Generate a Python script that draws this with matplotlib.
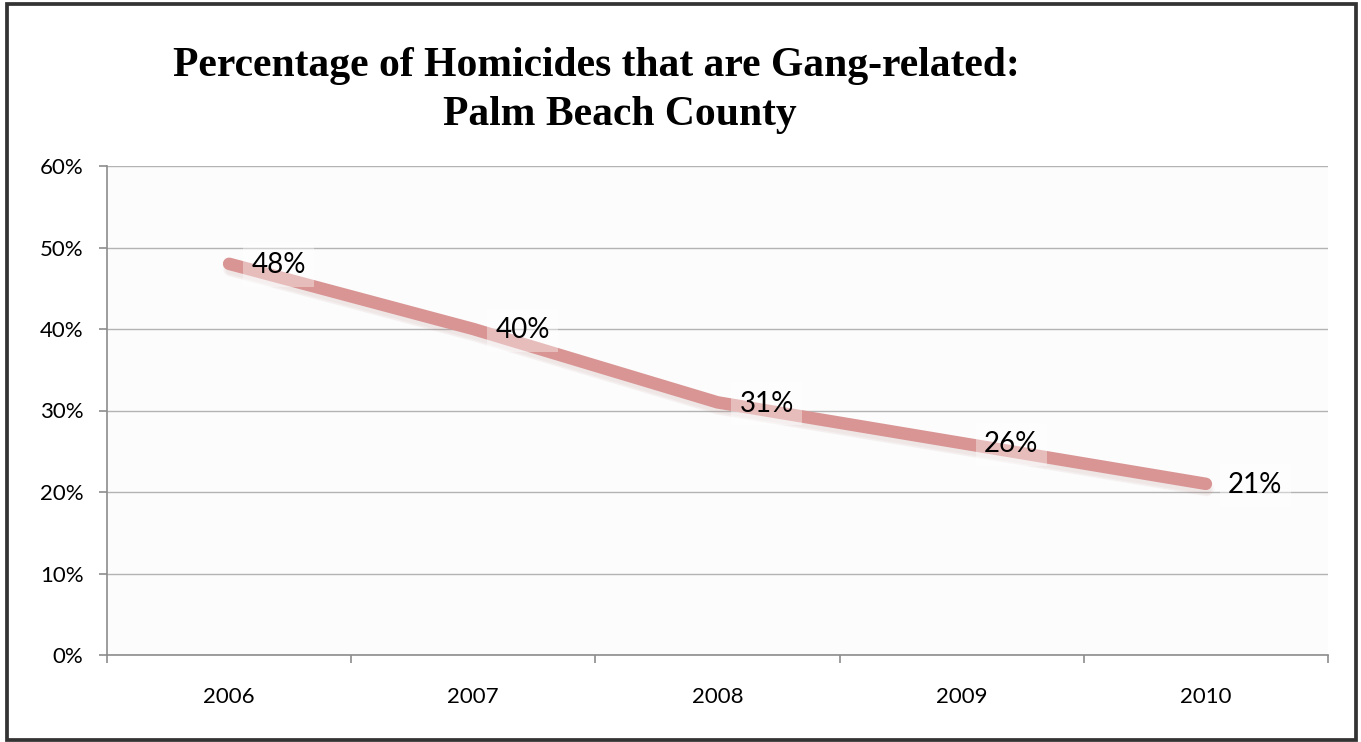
import matplotlib.pyplot as plt
import matplotlib.transforms as mtransforms
from matplotlib.patches import Rectangle

# Gang-related share of homicides, Palm Beach County
years = ["2006", "2007", "2008", "2009", "2010"]
pct = [48, 40, 31, 26, 21]
y_ticks = [0, 10, 20, 30, 40, 50, 60]

LINE = "#d99594"
GRID = "#b3b3b3"
AXIS = "#8c8c8c"
LABEL_FONT = ["Lato", "DejaVu Sans"]

fig = plt.figure(figsize=(13.61, 7.42), dpi=100)
W, H = 1361, 742

# outer frame of the chart (pixel coords)
fl, ft, fr, fb = 7, 3.5, 1356, 739.5
fig.patches.append(Rectangle((fl / W, 1 - fb / H), (fr - fl) / W, (fb - ft) / H,
                             transform=fig.transFigure, fill=False,
                             edgecolor="#333333", linewidth=2.7))

left, right, top, bottom = 107, 1328, 166, 655
ax = fig.add_axes([left / W, 1 - bottom / H, (right - left) / W, (bottom - top) / H])
ax.set_facecolor("#fcfcfc")

x = list(range(len(years)))
ax.set_xlim(-0.5, len(years) - 0.5)
ax.set_ylim(0, 60)

# soft drop shadow under the line
for dy, lw, a in [(-5, 15, 0.05), (-6, 12, 0.07), (-6, 9, 0.08)]:
    off = mtransforms.offset_copy(ax.transData, fig=fig, x=1, y=dy, units="dots")
    ax.plot(x, pct, color="#c09090", lw=lw * 0.72, alpha=a,
            solid_capstyle="round", solid_joinstyle="round", transform=off, zorder=2)

ax.plot(x, pct, color=LINE, lw=9, solid_capstyle="round",
        solid_joinstyle="round", zorder=3)

for xi, v in zip(x, pct):
    ax.annotate(f"{v}%", (xi, v), xytext=(16, -1), textcoords="offset points",
                ha="left", va="center", fontsize=20, family=LABEL_FONT,
                color="black", zorder=4,
                bbox=dict(boxstyle="square,pad=0.3", fc="white", ec="none", alpha=0.38))

ax.set_yticks(y_ticks)
ax.set_yticklabels([f"{t}%" for t in y_ticks], family=LABEL_FONT, fontsize=16)
ax.yaxis.grid(True, color=GRID, lw=1)
ax.set_axisbelow(True)

# category ticks sit on the boundaries, labels centred in each slot
ax.set_xticks([i - 0.5 for i in range(len(years) + 1)])
ax.set_xticklabels([])
ax.set_xticks(x, minor=True)
ax.set_xticklabels(years, minor=True, family=LABEL_FONT, fontsize=16)
ax.tick_params(axis="x", which="major", length=6, width=1.2, color=AXIS, direction="out")
ax.tick_params(axis="x", which="minor", length=0, pad=23)
ax.tick_params(axis="y", length=6, width=1.2, color=AXIS, pad=11)

for s in ["top", "right"]:
    ax.spines[s].set_visible(False)
for s in ["left", "bottom"]:
    ax.spines[s].set_color(AXIS)
    ax.spines[s].set_linewidth(1.2)

title_font = ["Liberation Serif", "DejaVu Serif"]
fig.text(596 / W, 1 - 66 / H, "Percentage of Homicides that are Gang-related:",
         ha="center", va="center", fontsize=30, fontweight="bold", family=title_font)
fig.text(620 / W, 1 - 115 / H, "Palm Beach County",
         ha="center", va="center", fontsize=30, fontweight="bold", family=title_font)

fig.savefig("out.png", dpi=100, facecolor="white")
